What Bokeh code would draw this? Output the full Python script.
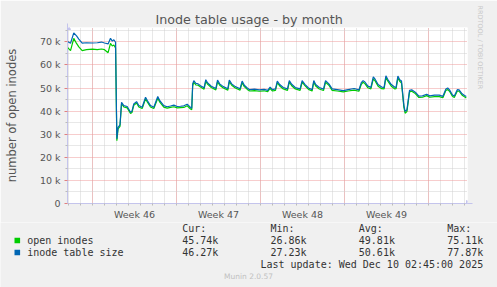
from bokeh.plotting import figure
from bokeh.models import FixedTicker, Range1d, Title, Arrow, NormalHead
from bokeh.layouts import column, row
from bokeh.core.properties import value
from bokeh.embed import file_html
from bokeh.resources import INLINE

# time in days since Mon Nov 10 2025 00:00
day = [-2.08, -1.83, -1.56, -1.33, -1.14, -0.86, -0.5, 0.0, 0.4, 0.75, 1.0, 1.3, 1.5, 1.65,
       1.78, 1.92, 2.03, 2.13, 2.29, 2.42, 2.61, 2.89, 3.17, 3.29, 3.44, 3.67, 3.86, 4.14,
       4.42, 4.58, 4.83, 5.11, 5.44, 5.61, 5.94, 6.22, 6.5, 6.78, 7.06, 7.33, 7.61, 7.89,
       8.17, 8.27, 8.35, 8.44, 8.61, 8.8, 9.0, 9.3, 9.44, 9.6, 9.9, 10.28, 10.42, 10.6,
       10.9, 11.28, 11.4, 11.6, 11.9, 12.3, 12.47, 12.65, 12.9, 13.1, 13.5, 13.9, 14.3,
       14.6, 14.8, 15.0, 15.25, 15.4, 15.6, 15.9, 16.25, 16.4, 16.6, 16.9, 17.3, 17.47,
       17.7, 18.0, 18.3, 18.44, 18.6, 18.9, 19.25, 19.42, 19.7, 19.97, 20.4, 20.9, 21.3,
       21.8, 22.2, 22.4, 22.55, 22.7, 22.95, 23.2, 23.4, 23.55, 23.8, 24.1, 24.3, 24.45,
       24.6, 24.9, 25.2, 25.3, 25.45, 25.6, 25.75, 25.95, 26.05, 26.2, 26.42, 26.6, 26.9,
       27.2, 27.5, 27.85, 28.1, 28.5, 28.9, 29.2, 29.45, 29.6, 29.75, 30.0, 30.15, 30.4,
       30.55, 30.8, 31.0, 31.15]

# values in thousands
inode_table_size = [70.1, 69.4, 73.9, 72.6, 71.2, 69.4, 69.6, 69.5, 69.6, 69.9, 69.5, 69.1, 71.5, 70.3,
                    70.9, 69.8, 28.0, 33.0, 34.0, 43.8, 42.4, 42.0, 39.5, 40.0, 43.1, 44.1, 42.4, 41.7,
                    46.0, 44.5, 42.4, 41.7, 46.3, 44.5, 42.4, 41.9, 42.2, 42.6, 42.0, 42.1, 42.3, 43.0,
                    41.6, 41.3, 51.8, 53.2, 52.0, 51.8, 51.0, 50.1, 53.6, 52.2, 50.8, 49.8, 53.4, 51.8,
                    50.6, 49.7, 53.4, 51.8, 50.6, 49.7, 53.0, 51.2, 50.0, 49.3, 49.5, 49.2, 49.4,
                    49.0, 50.4, 49.3, 49.6, 53.0, 51.5, 50.2, 49.6, 53.2, 51.6, 50.2, 49.6, 53.2,
                    51.6, 50.0, 49.3, 53.2, 51.5, 50.2, 49.5, 53.2, 51.8, 49.6, 49.3, 48.9, 49.3,
                    49.8, 49.2, 52.3, 53.2, 52.6, 50.8, 50.3, 54.8, 53.8, 51.5, 50.4, 50.3, 55.3,
                    53.8, 51.5, 50.3, 50.4, 55.2, 53.6, 53.0, 42.4, 39.9, 40.5, 49.0, 49.2, 48.2,
                    46.5, 46.6, 47.3, 46.6, 46.9, 46.9, 46.4, 49.6, 50.0, 49.2, 47.0, 46.5, 49.3,
                    49.2, 47.5, 46.8, 46.3]

open_inodes = [67.6, 66.2, 71.5, 69.3, 67.8, 66.2, 66.6, 66.8, 66.6, 66.9, 66.6, 65.3, 69.3, 68.2,
               68.6, 67.4, 27.2, 32.3, 33.4, 43.2, 41.8, 41.4, 39.0, 39.4, 42.5, 43.5, 41.8, 41.1,
               45.3, 43.9, 41.8, 41.1, 45.6, 43.9, 41.7, 41.3, 41.6, 41.9, 41.4, 41.5, 41.6, 42.3,
               40.9, 40.6, 51.0, 52.5, 51.3, 51.2, 50.4, 49.5, 52.9, 51.6, 50.2, 49.2, 52.7, 51.2,
               50.0, 49.1, 52.7, 51.2, 50.0, 49.1, 52.3, 50.6, 49.4, 48.7, 48.9, 48.6, 48.8,
               48.4, 49.8, 48.7, 49.0, 52.3, 50.9, 49.6, 49.0, 52.5, 51.0, 49.6, 49.0, 52.5,
               51.0, 49.4, 48.7, 52.5, 50.9, 49.6, 48.9, 52.5, 51.2, 49.0, 48.7, 48.3, 48.7,
               49.1, 48.6, 51.6, 52.5, 51.9, 50.1, 49.6, 54.0, 53.1, 50.8, 49.7, 49.6, 54.5,
               53.1, 50.8, 49.6, 49.7, 54.4, 52.9, 52.2, 41.6, 39.1, 39.8, 48.3, 48.6, 47.6,
               45.9, 46.0, 46.7, 46.0, 46.3, 46.3, 45.8, 49.0, 49.3, 48.6, 46.4, 45.9, 48.7,
               48.6, 46.9, 46.2, 45.7]

week_ticks = [3.5, 10.5, 17.5, 24.5]
week_labels = ["Week 46", "Week 47", "Week 48", "Week 49"]
week_starts = [0, 7, 14, 21, 28]
day_lines = list(range(-2, 32))
y_ticks = [0, 10, 20, 30, 40, 50, 60, 70]
y_tick_labels = ["0", "10 k", "20 k", "30 k", "40 k", "50 k", "60 k", "70 k"]
y_minor = [5, 15, 25, 35, 45, 55, 65, 75]

series_names = ["open inodes", "inode table size"]
series_colors = ["#00CC00", "#0066B3"]
cur_vals = [45.74, 46.27]
min_vals = [26.86, 27.23]
avg_vals = [49.81, 50.61]
max_vals = [75.11, 77.87]
col_heads = ["Cur:", "Min:", "Avg:", "Max:"]
last_update = "Last update: Wed Dec 10 02:45:00 2025"
title_text = "Inode table usage - by month"
watermark = "RRDTOOL / TOBI OETIKER"
footer = "Munin 2.0.57"

BG = "#F0F0F0"
AXIS = "#C4C4EC"

# ---------------- main chart ----------------
p = figure(width=497, height=222, x_range=Range1d(-2.083, 31.25), y_range=Range1d(0, 76.2),
           output_backend="svg", toolbar_location=None,
           min_border_left=67, min_border_right=30, min_border_top=27, min_border_bottom=19)
p.background_fill_color = "white"
p.border_fill_color = BG
p.outline_line_color = None

p.title.text = title_text
p.title.align = "left"
p.title.offset = 88
p.title.standoff = 1
p.title.text_font = "DejaVu Sans"
p.title.text_font_size = "12.7px"
p.title.text_font_style = "normal"
p.title.text_color = "#555555"

p.add_layout(Title(text=watermark, align="left", offset=-22, standoff=16,
                   text_font="DejaVu Sans", text_font_size="6.5px", text_font_style="normal",
                   text_color="#C8C8C8"), "right")

p.xaxis.ticker = FixedTicker(ticks=week_ticks, minor_ticks=day_lines)
p.xaxis.major_label_overrides = {t: l for t, l in zip(week_ticks, week_labels)}
p.yaxis.ticker = FixedTicker(ticks=y_ticks, minor_ticks=y_minor)
p.yaxis.major_label_overrides = {t: l for t, l in zip(y_ticks, y_tick_labels)}
for ax in (p.xaxis[0], p.yaxis[0]):
    ax.axis_line_color = AXIS
    ax.major_label_text_font = "DejaVu Sans"
    ax.major_label_text_font_size = "9.5px"
    ax.major_label_text_color = "#555555"
    ax.minor_tick_in = 0
    ax.major_tick_in = 0
p.xaxis.major_tick_out = 0
p.xaxis.minor_tick_out = 2
p.xaxis.minor_tick_line_color = "#BBBBBB"
p.xaxis.major_label_standoff = 3
p.yaxis.major_tick_out = 3
p.yaxis.major_tick_line_color = "#E08080"
p.yaxis.minor_tick_out = 2
p.yaxis.minor_tick_line_color = "#BBBBBB"
p.yaxis.major_label_standoff = 4
p.yaxis.axis_label = "number of open inodes"
p.yaxis.axis_label_text_font = "DejaVu Sans"
p.yaxis.axis_label_text_font_size = "11.5px"
p.yaxis.axis_label_text_font_style = "normal"
p.yaxis.axis_label_text_color = "#555555"
p.yaxis.axis_label_standoff = 18

p.xgrid.ticker = FixedTicker(ticks=week_starts, minor_ticks=day_lines)
p.ygrid.ticker = FixedTicker(ticks=y_ticks, minor_ticks=y_minor)
for g in (p.xgrid[0], p.ygrid[0]):
    g.grid_line_color = "#EE9A9A"
    g.grid_line_dash = "1 1"
    g.grid_line_width = 1
    g.minor_grid_line_color = "#D0D0D0"
    g.minor_grid_line_dash = "1 1"

p.line(day, open_inodes, line_color=series_colors[0], line_width=1.2)
p.line(day, inode_table_size, line_color=series_colors[1], line_width=1.2)

p.add_layout(Arrow(x_start=398, y_start=0, x_end=405, y_end=0, start_units="screen", end_units="screen",
                   line_color=AXIS, line_width=1,
                   end=NormalHead(size=6, fill_color=AXIS, line_color=AXIS)))
p.add_layout(Arrow(x_start=0, y_start=174, x_end=0, y_end=180, start_units="screen", end_units="screen",
                   line_color=AXIS, line_width=1,
                   end=NormalHead(size=6, fill_color=AXIS, line_color=AXIS)))

# ---------------- legend / footer area (canvas pixel coordinates) ----------------
TOP = 222
q = figure(width=497, height=65, x_range=Range1d(0, 497), y_range=Range1d(287, TOP),
           output_backend="svg", toolbar_location=None, x_axis_type=None, y_axis_type=None,
           min_border=0, min_border_left=0, min_border_right=0, min_border_top=0, min_border_bottom=0)
q.background_fill_color = BG
q.border_fill_color = BG
q.outline_line_color = None
q.grid.visible = False

mono = value("DejaVu Sans Mono")
col_x = [181.7, 270.0, 358.3, 446.7]
rows_y = [240, 252]
q.text(x=col_x, y=[227.5] * 4, text=col_heads, text_font=mono, text_font_size="10px",
       text_color="#333333", text_baseline="middle")
q.rect(x=[16.8, 16.8], y=rows_y, width=5.6, height=5.6, fill_color=series_colors, line_color=None)
q.text(x=[26.7, 26.7], y=rows_y, text=series_names, text_font=mono, text_font_size="10px",
       text_color="#333333", text_baseline="middle")
for i in range(len(series_names)):
    vals = [cur_vals[i], min_vals[i], avg_vals[i], max_vals[i]]
    q.text(x=col_x, y=[rows_y[i]] * 4, text=[f"{v:.2f}k" for v in vals], text_font=mono,
           text_font_size="10px", text_color="#333333", text_baseline="middle")
q.text(x=[482.7], y=[263.5], text=[last_update], text_font=mono, text_font_size="10px",
       text_color="#333333", text_baseline="middle", text_align="right")
q.text(x=[248], y=[276], text=[footer], text_font=value("DejaVu Sans"), text_font_size="7.5px",
       text_color="#C0C0C0", text_baseline="middle", text_align="center")

layout = column(row(p), row(q), spacing=0)
open("out.html", "w").write(file_html(layout, INLINE))
